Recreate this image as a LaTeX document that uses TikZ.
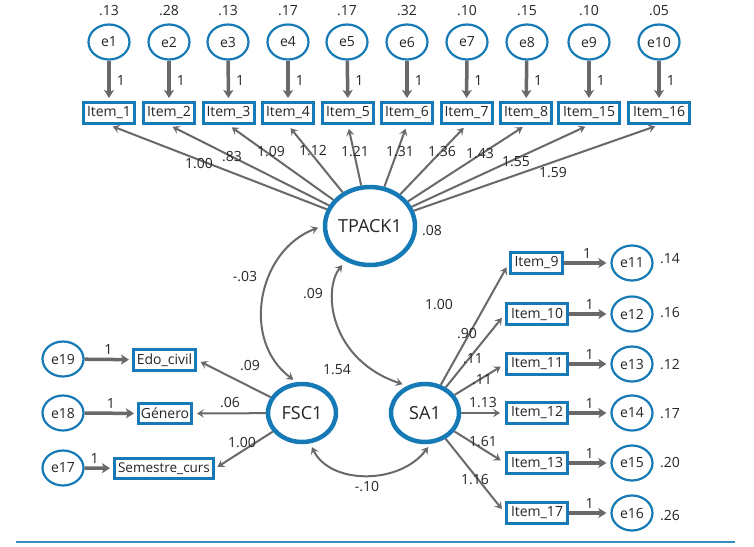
\documentclass[tikz,border=0pt]{standalone}
\usepackage{fontspec}
\setmainfont{Open Sans}
\usetikzlibrary{arrows.meta,shapes.geometric}
\definecolor{amosblue}{RGB}{22,122,182}
\definecolor{pathgray}{RGB}{105,105,105}

\begin{document}
\begin{tikzpicture}[x=1pt, y=-1pt,
	every node/.style={font=\fontsize{14}{16}\selectfont, text=black!85},
	errvar/.style={ellipse, draw=amosblue, line width=2.2pt, minimum width=41pt, minimum height=35pt, inner sep=0pt},
	obsbox/.style={rectangle, draw=amosblue, line width=3pt, minimum width=51pt, minimum height=21pt, inner sep=1pt},
	latvar/.style={ellipse, draw=amosblue, line width=4.5pt, minimum width=68pt, minimum height=58pt, inner sep=0pt, font=\fontsize{18}{20}\selectfont},
	fixpath/.style={draw=pathgray, line width=3.5pt, -{Stealth[length=8pt,width=10pt,inset=2pt]}},
	estpath/.style={draw=pathgray, line width=2pt, -{Stealth[length=7pt,width=8.5pt,inset=3pt]}},
	covpath/.style={draw=pathgray, line width=2pt, {Stealth[length=7pt,width=8.5pt,inset=3pt]}-{Stealth[length=7pt,width=8.5pt,inset=3pt]}},
	est/.style={inner sep=0pt}]
			%%%%% START %%%%%
			
			\path[use as bounding box, fill=white] (0, 0) rectangle (754, 546);
			
			% latent variables
			\node[latvar, minimum width=87pt, minimum height=78pt] (TPACK1) at (370, 226) {TPACK1};
			\node[latvar] (FSC1) at (302, 413) {FSC1};
			\node[latvar] (SA1) at (425, 413) {SA1};
			
			% top row: errors and items
			\node[errvar] (e1) at (109, 42) {e1};
			\node[errvar] (e2) at (169, 42) {e2};
			\node[errvar] (e3) at (228, 42) {e3};
			\node[errvar] (e4) at (288, 42) {e4};
			\node[errvar] (e5) at (347, 42) {e5};
			\node[errvar] (e6) at (407, 42) {e6};
			\node[errvar] (e7) at (467, 42) {e7};
			\node[errvar] (e8) at (527, 42) {e8};
			\node[errvar] (e9) at (589, 42) {e9};
			\node[errvar] (e10) at (659, 42) {e10};
			
			\node[obsbox] (item1) at (109, 113) {Item\_1};
			\node[obsbox] (item2) at (169, 113) {Item\_2};
			\node[obsbox] (item3) at (228.5, 113) {Item\_3};
			\node[obsbox] (item4) at (288, 113) {Item\_4};
			\node[obsbox] (item5) at (348, 113) {Item\_5};
			\node[obsbox] (item6) at (407, 113) {Item\_6};
			\node[obsbox] (item7) at (466.5, 113) {Item\_7};
			\node[obsbox] (item8) at (526, 113) {Item\_8};
			\node[obsbox, minimum width=61pt] (item15) at (589, 113) {Item\_15};
			\node[obsbox, minimum width=61pt] (item16) at (659, 113) {Item\_16};
			
			\node[est] (v1) at (109, 11) {.13};
			\node[est] (v2) at (169, 11) {.28};
			\node[est] (v3) at (228, 11) {.13};
			\node[est] (v4) at (288, 11) {.17};
			\node[est] (v5) at (347, 11) {.17};
			\node[est] (v6) at (407, 11) {.32};
			\node[est] (v7) at (467, 11) {.10};
			\node[est] (v8) at (527, 11) {.15};
			\node[est] (v9) at (589, 11) {.10};
			\node[est] (v10) at (659, 11) {.05};
			
			\draw[fixpath, shorten >=3pt] (e1) -- node[est, right=6pt] (f1) {1} (item1);
			\draw[fixpath, shorten >=3pt] (e2) -- node[est, right=6pt] (f2) {1} (item2);
			\draw[fixpath, shorten >=3pt] (e3) -- node[est, right=6pt] (f3) {1} (item3);
			\draw[fixpath, shorten >=3pt] (e4) -- node[est, right=6pt] (f4) {1} (item4);
			\draw[fixpath, shorten >=3pt] (e5) -- node[est, right=6pt] (f5) {1} (item5);
			\draw[fixpath, shorten >=3pt] (e6) -- node[est, right=6pt] (f6) {1} (item6);
			\draw[fixpath, shorten >=3pt] (e7) -- node[est, right=6pt] (f7) {1} (item7);
			\draw[fixpath, shorten >=3pt] (e8) -- node[est, right=6pt] (f8) {1} (item8);
			\draw[fixpath, shorten >=3pt] (e9) -- node[est, right=6pt] (f9) {1} (item15);
			\draw[fixpath, shorten >=3pt] (e10) -- node[est, right=6pt] (f10) {1} (item16);
			
			\draw[estpath, shorten >=4pt] (TPACK1) -- (item1.south);
			\draw[estpath, shorten >=4pt] (TPACK1) -- (item2.south);
			\draw[estpath, shorten >=4pt] (TPACK1) -- (item3.south);
			\draw[estpath, shorten >=4pt] (TPACK1) -- (item4.south);
			\draw[estpath, shorten >=4pt] (TPACK1) -- (item5.south);
			\draw[estpath, shorten >=4pt] (TPACK1) -- (item6.south);
			\draw[estpath, shorten >=4pt] (TPACK1) -- (item7.south);
			\draw[estpath, shorten >=4pt] (TPACK1) -- (item8.south);
			\draw[estpath, shorten >=4pt] (TPACK1) -- (item15.south);
			\draw[estpath, shorten >=4pt] (TPACK1) -- (item16.south);
			
			\node[est] (w1) at (199, 164) {1.00};
			\node[est] (w2) at (232, 157) {.83};
			\node[est] (w3) at (271, 152) {1.09};
			\node[est] (w4) at (313, 151) {1.12};
			\node[est] (w5) at (355, 152) {1.21};
			\node[est] (w6) at (400, 152) {1.31};
			\node[est] (w7) at (442, 152) {1.36};
			\node[est] (w8) at (480, 154) {1.43};
			\node[est] (w9) at (516, 162) {1.55};
			\node[est] (w10) at (553, 173) {1.59};
			\node[est] (vT) at (432, 231) {.08};
			
			% left side: FSC1
			\node[errvar] (e19) at (63, 359) {e19};
			\node[errvar] (e18) at (63, 413) {e18};
			\node[errvar] (e17) at (63, 468) {e17};
			
			\node[obsbox, minimum width=62pt] (edo) at (164.5, 360) {Edo\_civil};
			\node[obsbox, minimum width=53pt, minimum height=20pt] (genero) at (165, 413.5) {Género};
			\node[obsbox, minimum width=99pt, minimum height=20pt, font=\fontsize{13.5}{15}\selectfont] (semestre) at (164, 468.5) {Semestre\_curs};
			
			\draw[fixpath, shorten >=3pt] (e19) -- node[est, above=3pt] (f19) {1} (edo);
			\draw[fixpath, shorten >=3pt] (e18) -- node[est, above=3pt] (f18) {1} (genero);
			\draw[fixpath, shorten >=3pt] (e17) -- node[est, above=3pt, pos=0.35] (f17) {1} (semestre);
			
			\draw[estpath, shorten >=4pt] (FSC1) -- (edo.east);
			\draw[estpath, shorten >=4pt] (FSC1) -- (genero.east);
			\draw[estpath, shorten >=3pt] (FSC1) -- (semestre.east);
			
			\node[est] (w19) at (250, 366) {.09};
			\node[est] (w18) at (230, 403) {.06};
			\node[est] (w17) at (242, 443) {1.00};
			\node[est] (vF) at (337, 370) {1.54};
			
			% right side: SA1
			\node[obsbox, minimum width=52pt] (item9) at (536.5, 263) {Item\_9};
			\node[obsbox, minimum width=61pt] (item10) at (537, 314) {Item\_10};
			\node[obsbox, minimum width=61pt] (item11) at (537, 364) {Item\_11};
			\node[obsbox, minimum width=61pt] (item12) at (537, 413) {Item\_12};
			\node[obsbox, minimum width=61pt] (item13) at (537, 463) {Item\_13};
			\node[obsbox, minimum width=61pt] (item17) at (537, 513) {Item\_17};
			
			\node[errvar] (e11) at (632, 263) {e11};
			\node[errvar] (e12) at (632, 314) {e12};
			\node[errvar] (e13) at (632, 364) {e13};
			\node[errvar] (e14) at (632, 413) {e14};
			\node[errvar] (e15) at (632, 463) {e15};
			\node[errvar] (e16) at (632, 513) {e16};
			
			\draw[fixpath, shorten >=4pt] (item9) -- node[est, above=3pt] (f11) {1} (e11);
			\draw[fixpath, shorten >=4pt] (item10) -- node[est, above=3pt] (f12) {1} (e12);
			\draw[fixpath, shorten >=4pt] (item11) -- node[est, above=3pt] (f13) {1} (e13);
			\draw[fixpath, shorten >=4pt] (item12) -- node[est, above=3pt] (f14) {1} (e14);
			\draw[fixpath, shorten >=4pt] (item13) -- node[est, above=3pt] (f15) {1} (e15);
			\draw[fixpath, shorten >=4pt] (item17) -- node[est, above=3pt] (f16) {1} (e16);
			
			\node[est] (v11) at (670, 259) {.14};
			\node[est] (v12) at (670, 313) {.16};
			\node[est] (v13) at (670, 365) {.12};
			\node[est] (v14) at (670, 414) {.17};
			\node[est] (v15) at (670, 463) {.20};
			\node[est] (v16) at (670, 516) {.26};
			
			\draw[estpath, shorten >=5pt] (SA1) -- (item9.west);
			\draw[estpath, shorten >=5pt] (SA1) -- (item10.west);
			\draw[estpath, shorten >=5pt] (SA1) -- (item11.west);
			\draw[estpath, shorten >=5pt] (SA1) -- (item12.west);
			\draw[estpath, shorten >=5pt] (SA1) -- (item13.west);
			\draw[estpath, shorten >=5pt] (SA1) -- (item17.west);
			
			\node[est] (w11) at (467, 334) {.90};
			\node[est] (w12) at (473, 359) {.11};
			\node[est] (w13) at (482, 380) {.11};
			\node[est] (w14) at (483, 403) {1.13};
			\node[est] (w15) at (483, 442) {1.61};
			\node[est] (w16) at (475, 480) {1.16};
			\node[est] (vS) at (439, 305) {1.00};
			
			% covariances
			\draw[covpath, shorten <=5pt, shorten >=4pt] (TPACK1.180) .. controls (258, 250) and (240, 340) .. (FSC1.100);
			\draw[covpath, shorten <=5pt, shorten >=5pt] (TPACK1.235) .. controls (322, 290) and (330, 360) .. (SA1.123);
			\draw[covpath, shorten <=4pt, shorten >=4pt] (FSC1.285) .. controls (330, 485) and (400, 485) .. (SA1.280);
			
			\node[est] (c1) at (245, 277) {-.03};
			\node[est] (c2) at (313, 294) {.09};
			\node[est] (c3) at (367, 487) {-.10};
			
			\draw[amosblue!85, line width=1.2pt] (16, 542) -- (735, 542);
			
			%%%%% END %%%%%
\end{tikzpicture}
\end{document}
